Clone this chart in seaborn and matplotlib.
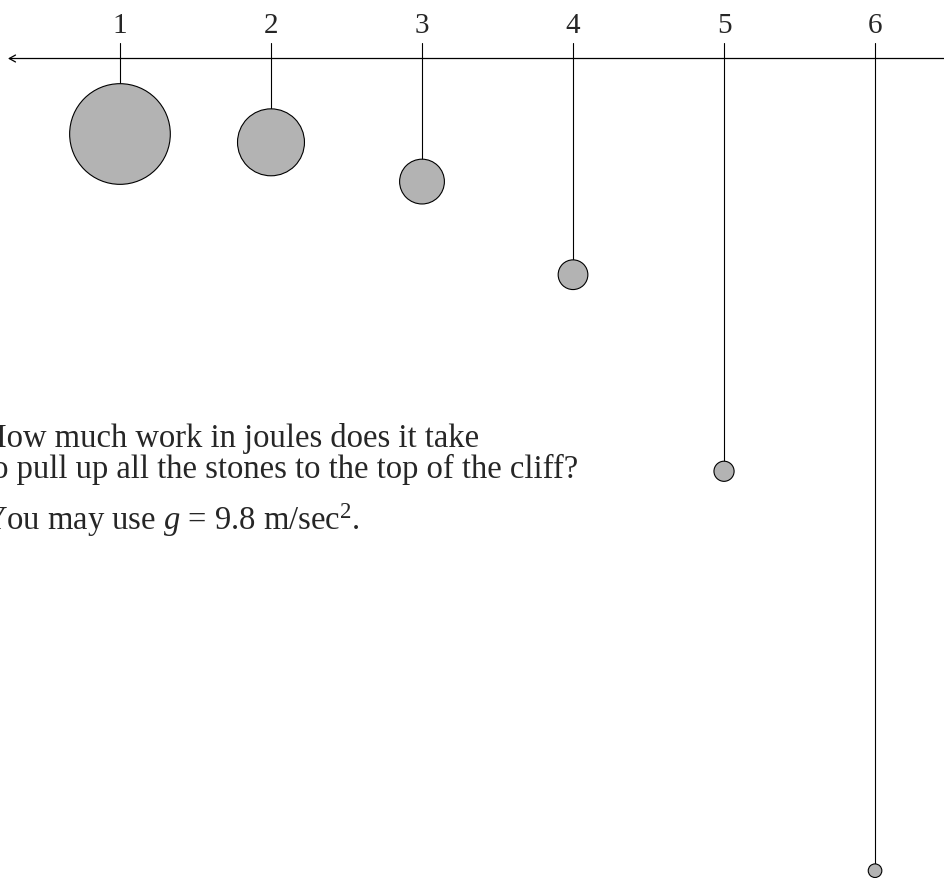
import matplotlib
matplotlib.use("Agg")
import matplotlib.pyplot as plt
from matplotlib.patches import Circle
import seaborn as sns

# stones hanging from the top of the cliff
stone_labels = ["1", "2", "3", "4", "5", "6"]
stone_number = [1, 2, 3, 4, 5, 6]
string_length = [1, 2, 4, 8, 16, 32]
stone_radius = [2.0, 1.33, 0.89, 0.59, 0.40, 0.27]

question = ["How much work in joules does it take",
            "to pull up all the stones to the top of the cliff?"]
hint = r"You may use $g$ = 9.8 m/sec$^2$."

SPACING = 6  # horizontal gap between stones, in length units

sns.set_theme(style="white")
plt.rcParams["font.family"] = ["Liberation Serif", "DejaVu Serif"]
plt.rcParams["mathtext.fontset"] = "custom"
plt.rcParams["mathtext.rm"] = "Liberation Serif"
plt.rcParams["mathtext.it"] = "Liberation Serif:italic"

fig = plt.figure(figsize=(9.44, 8.79), dpi=100)
ax = fig.add_axes([0, 0, 1, 1])
ax.set_xlim(1.233, 38.74)
ax.set_ylim(-32.56, 2.364)
ax.set_aspect("equal")
ax.axis("off")

# the cliff edge with an arrow pointing left
ax.annotate("", xy=(1.55, 0), xytext=(40, 0),
            arrowprops=dict(arrowstyle="->,head_length=0.45,head_width=0.25",
                            lw=0.9, color="black", shrinkA=0, shrinkB=0,
                            mutation_scale=10))

for num, lab, L, r in zip(stone_number, stone_labels, string_length, stone_radius):
    x = num * SPACING
    ax.plot([x, x], [0.62, -L], color="black", lw=0.8)
    ax.add_patch(Circle((x, -L - r), r, facecolor="#b3b3b3",
                        edgecolor="black", lw=0.8, zorder=3))
    ax.text(x, 1.05, lab, ha="center", va="baseline", fontsize=21)

for i, line in enumerate(question):
    ax.text(0.557, -15.4 - i * 1.23, line, ha="left", va="baseline", fontsize=23.5)
ax.text(0.557, -18.68, hint, ha="left", va="baseline", fontsize=23.5)

fig.savefig("out.png", dpi=100)
